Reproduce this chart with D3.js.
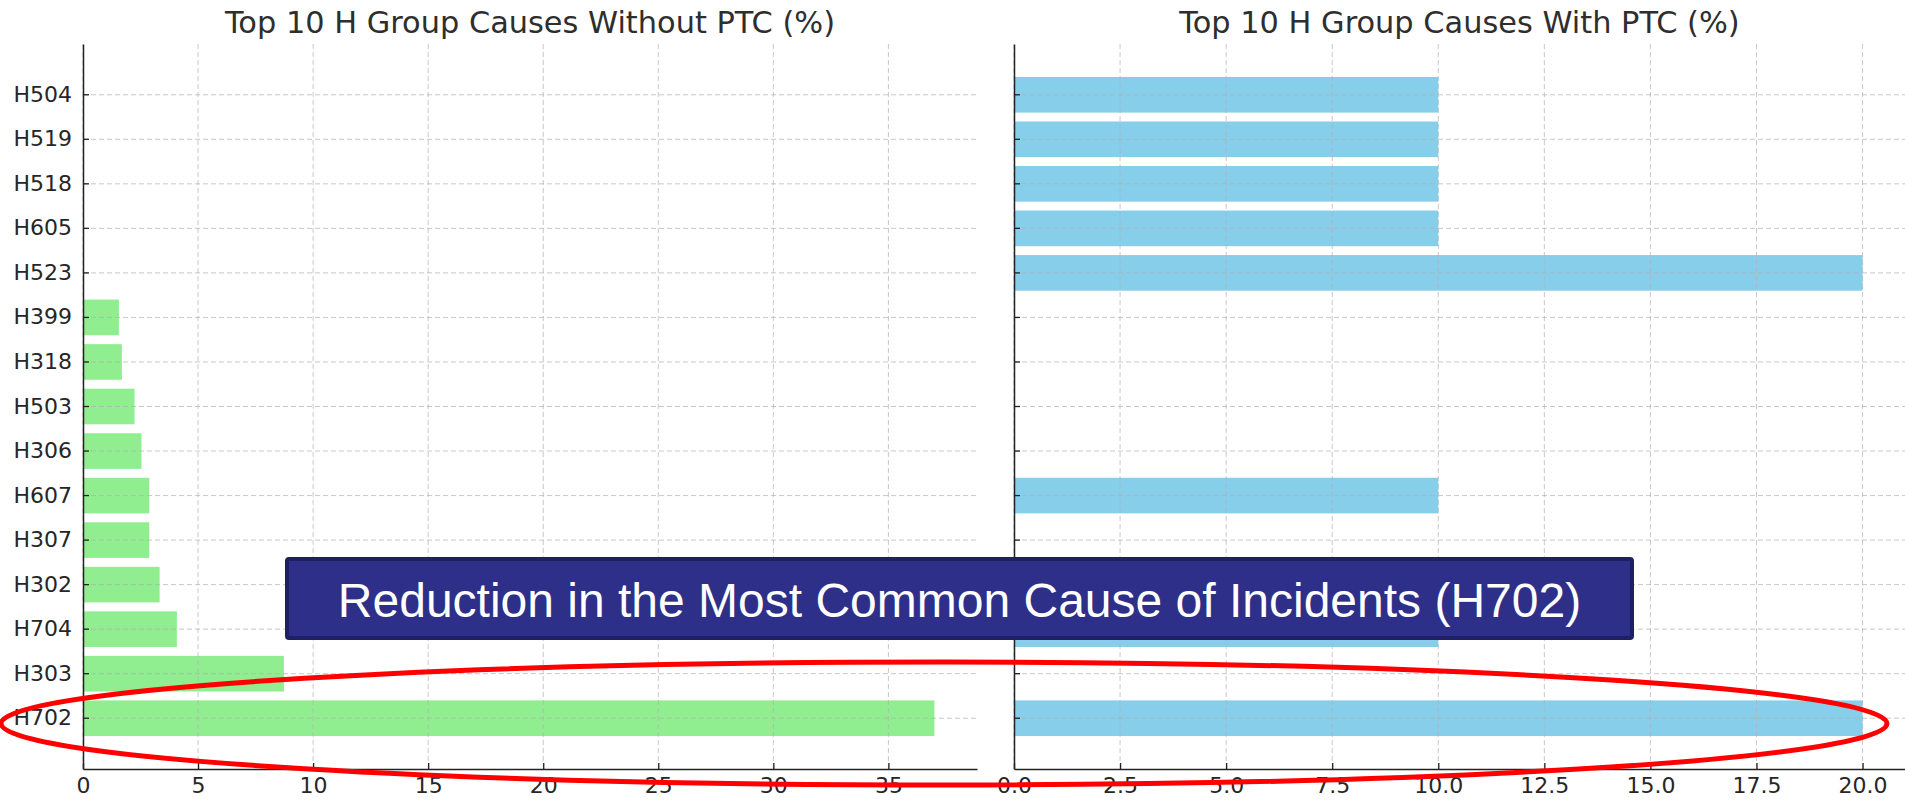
<!DOCTYPE html>
<html>
<head>
<meta charset="utf-8">
<script src="https://cdn.jsdelivr.net/npm/d3@7"></script>
<style>
  html, body { margin: 0; padding: 0; background: #fff; }
  svg { display: block; }
</style>
</head>
<body>
<svg id="chart" width="1905" height="800"></svg>
<script>
// ---- data ----
const categories = ["H504","H519","H518","H605","H523","H399","H318","H503","H306","H607","H307","H302","H704","H303","H702"];
const withoutPTC = [0,0,0,0,0,1.56,1.69,2.24,2.54,2.88,2.88,3.33,4.08,8.73,37.0];
const withPTC    = [10,10,10,10,20,0,0,0,0,10,0,0,10,0,20];
const leftTicks  = [0,5,10,15,20,25,30,35];
const rightTicks = [0,2.5,5,7.5,10,12.5,15,17.5,20];
const leftTitle  = "Top 10 H Group Causes Without PTC (%)";
const rightTitle = "Top 10 H Group Causes With PTC (%)";
const annotation = "Reduction in the Most Common Cause of Incidents (H702)";

const svg = d3.select("#chart");
const plotTop = 44, plotBottom = 769;
const font = "'DejaVu Sans', sans-serif";

const y = d3.scaleBand().domain(categories).range([plotTop, plotBottom])
  .paddingInner(0.2).paddingOuter(0.74);

function panel(opts) {
  const {x0, x1, maxV, values, ticks, fmt, color, title, showLabels} = opts;
  const x = d3.scaleLinear().domain([0, maxV * 1.05]).range([x0, x1]);
  const g = svg.append("g");

  // bars
  g.selectAll("rect.bar").data(categories).join("rect")
    .attr("class","bar")
    .attr("x", x(0))
    .attr("y", d => y(d))
    .attr("width", (d,i) => x(values[i]) - x(0))
    .attr("height", y.bandwidth())
    .attr("fill", color);

  // grid (on top of bars, like matplotlib)
  const grid = g.append("g").attr("stroke", "#b0b0b0").attr("stroke-opacity", 0.7)
    .attr("stroke-width", 1).attr("stroke-dasharray", "5,3");
  grid.selectAll("line.v").data(ticks).join("line")
    .attr("x1", d => x(d)).attr("x2", d => x(d))
    .attr("y1", plotTop).attr("y2", plotBottom);
  grid.selectAll("line.h").data(categories).join("line")
    .attr("x1", x0).attr("x2", x1)
    .attr("y1", d => y(d) + y.bandwidth()/2).attr("y2", d => y(d) + y.bandwidth()/2);

  // x axis
  const xAxis = d3.axisBottom(x).tickValues(ticks).tickFormat(fmt)
    .tickSizeInner(-6).tickSizeOuter(0).tickPadding(8);
  const ga = g.append("g").attr("transform", `translate(0,${plotBottom})`).call(xAxis);
  ga.select(".domain").attr("stroke", "#222").attr("stroke-width", 1.5);
  ga.selectAll(".tick line").attr("stroke", "#222").attr("stroke-width", 1.3);
  ga.selectAll(".tick text").attr("font-family", font).attr("font-size", 22)
    .attr("fill", "#262626");

  // y axis
  const yAxis = d3.axisLeft(y).tickSizeInner(-6).tickSizeOuter(0).tickPadding(11);
  const gy = g.append("g").attr("transform", `translate(${x0},0)`).call(yAxis);
  gy.select(".domain").attr("stroke", "#222").attr("stroke-width", 1.5);
  gy.selectAll(".tick line").attr("stroke", "#222").attr("stroke-width", 1.3);
  gy.selectAll(".tick text").attr("font-family", font).attr("font-size", 22)
    .attr("fill", "#262626");
  if (!showLabels) gy.selectAll(".tick text").remove();

  // title
  g.append("text").attr("x", (x0 + x1) / 2).attr("y", 33)
    .attr("text-anchor", "middle").attr("font-family", font)
    .attr("font-size", 30.4).attr("fill", "#2e2e2e").text(title);
}

panel({x0: 83, x1: 977, maxV: d3.max(withoutPTC), values: withoutPTC,
  ticks: leftTicks, fmt: d3.format("d"), color: "#90EE90", title: leftTitle, showLabels: true});
panel({x0: 1014, x1: 1905, maxV: d3.max(withPTC), values: withPTC,
  ticks: rightTicks, fmt: d3.format(".1f"), color: "#87CEEB", title: rightTitle, showLabels: false});

// annotation box
const box = svg.append("g");
box.append("rect").attr("x", 287).attr("y", 559).attr("width", 1345).attr("height", 79)
  .attr("rx", 2).attr("fill", "#2e2f88").attr("stroke", "#1f1f63").attr("stroke-width", 4);
box.append("text").attr("x", 959.5).attr("y", 617).attr("text-anchor", "middle")
  .attr("font-family", "'Liberation Sans', Arial, sans-serif").attr("font-size", 48)
  .attr("fill", "#ffffff").text(annotation);

// red highlight ellipse
svg.append("ellipse").attr("cx", 944).attr("cy", 723.5).attr("rx", 943).attr("ry", 61.5)
  .attr("fill", "none").attr("stroke", "#ff0000").attr("stroke-width", 5);
</script>
</body>
</html>
